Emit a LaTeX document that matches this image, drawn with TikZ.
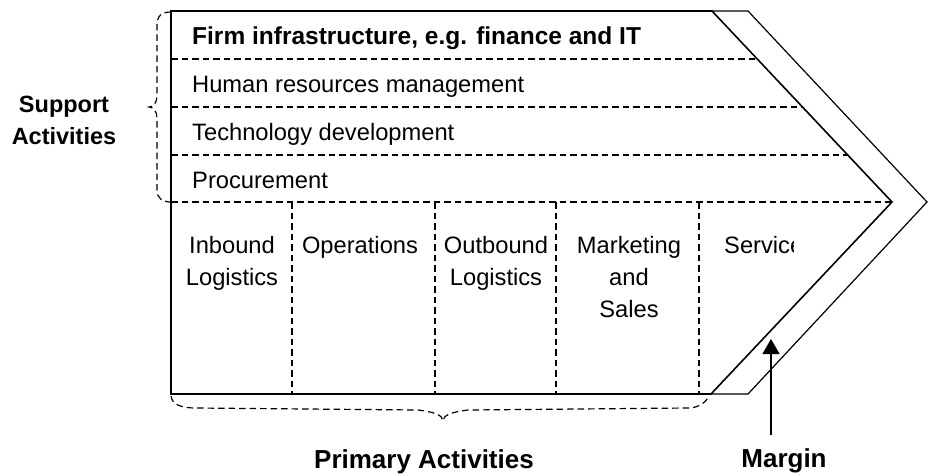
\documentclass[tikz,border=0pt]{standalone}
\usepackage{fontspec}
\setmainfont{Liberation Sans}
\usetikzlibrary{arrows.meta}
\begin{document}
\begin{tikzpicture}[x=1pt,y=-1pt,
  solidline/.style={line width=1.6pt, line join=miter},
  marginline/.style={line width=1.2pt},
  dashline/.style={line width=1.2pt, dash pattern=on 6.5pt off 4pt},
  bracestyle/.style={line width=1.2pt, dash pattern=on 6.5pt off 4pt},
  rowtxt/.style={inner sep=0pt, anchor=base west, font=\fontsize{23.7}{32}\selectfont},
  coltxt/.style={inner sep=0pt, anchor=north, align=center, font=\fontsize{23.7}{32}\selectfont},
  lbltxt/.style={inner sep=0pt, align=center, font=\bfseries\fontsize{23.5}{32}\selectfont}
]
\useasboundingbox (0,0) rectangle (929,475);

% corner coordinates
\coordinate (tl) at (171,11);
\coordinate (tr) at (712,11);
\coordinate (tip) at (892,202);
\coordinate (br) at (711,394);
\coordinate (bl) at (171,394);
\coordinate (otr) at (748,11);
\coordinate (otip) at (927,202);
\coordinate (obr) at (748,394);

% dashed rows
\coordinate (r1l) at (171,59);  \coordinate (r1r) at (757,59);
\coordinate (r2l) at (171,107); \coordinate (r2r) at (802,107);
\coordinate (r3l) at (171,155); \coordinate (r3r) at (847,155);
\coordinate (r4l) at (171,202);
\draw[dashline] (r1l) -- (r1r);
\draw[dashline] (r2l) -- (r2r);
\draw[dashline] (r3l) -- (r3r);
\draw[dashline] (r4l) -- (tip);

% dashed columns
\foreach \x/\n in {292/a,435/b,556/c,699/d}{
  \coordinate (c\n t) at (\x,202);
  \coordinate (c\n b) at (\x,394);
  \draw[dashline] (c\n t) -- (c\n b);
}

% main outline
\draw[solidline] (tl) -- (tr) -- (tip) -- (br) -- (bl) -- cycle;
% margin outline
\draw[marginline] (tr) -- (otr) -- (otip) -- (obr) -- (br);

% support brace
\draw[bracestyle] (171,12) .. controls (161,12) and (157,16) .. (157,26) -- (157,96)
  .. controls (157,103) and (153,107) .. (149,107)
  .. controls (153,107) and (157,111) .. (157,118) -- (157,190)
  .. controls (157,198) and (162,202) .. (171,202);

% primary brace
\draw[bracestyle] (171,396) .. controls (172,404) and (180,408) .. (196,408) -- (418,410)
  .. controls (434,412) and (443,415) .. (443,421)
  .. controls (443,415) and (452,412) .. (468,410) -- (688,408)
  .. controls (699,408) and (706,402) .. (709,396);

% row texts
\node[rowtxt, font=\bfseries\fontsize{24.5}{32}\selectfont] (firm) at (192,44) {Firm infrastructure, e.g. finance and IT};
\node[rowtxt] (hrm) at (192,92) {Human resources management};
\node[rowtxt] (tech) at (192,140) {Technology development};
\node[rowtxt] (proc) at (192,188) {Procurement};

% column texts
\node[coltxt] (inb) at (232,236) {Inbound\\Logistics};
\node[coltxt] (ops) at (360,236) {Operations};
\node[coltxt] (outb) at (496,236) {Outbound\\Logistics};
\node[coltxt] (mkt) at (629,236) {Marketing\\and\\Sales};
\begin{scope}
  \clip (700,200) rectangle (793,300);
  \node[coltxt, anchor=north west] (serv) at (724,236) {Service};
\end{scope}

% labels
\node[lbltxt] (sup) at (64,120) {Support\\Activities};
\node[lbltxt, anchor=base, font=\bfseries\fontsize{26}{32}\selectfont] (prim) at (424,468) {Primary Activities};
\node[lbltxt, anchor=base, font=\bfseries\fontsize{26}{32}\selectfont] (marg) at (784,467) {Margin};

% margin arrow
\coordinate (arrS) at (771,435);
\coordinate (arrE) at (771,339);
\draw[line width=1.2pt, -{Triangle[width=17pt,length=15pt]}] (arrS) -- (arrE);
\end{tikzpicture}
\end{document}
